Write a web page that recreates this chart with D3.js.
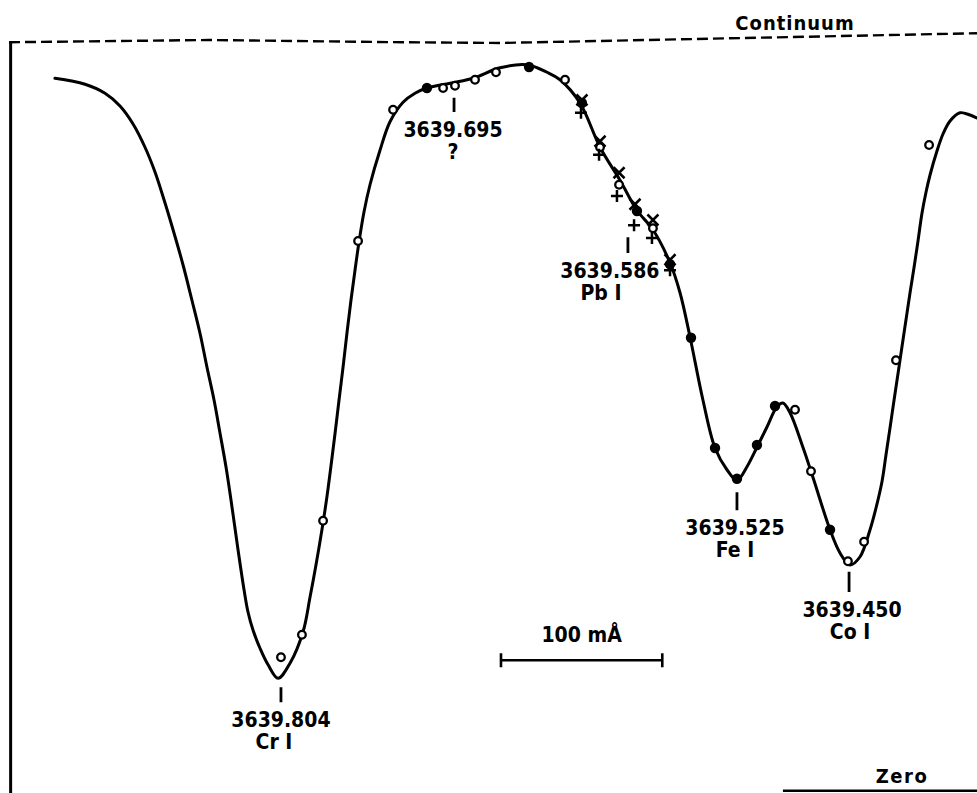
<!DOCTYPE html>
<html>
<head>
<meta charset="utf-8">
<script src="https://cdn.jsdelivr.net/npm/d3@7"></script>
<style>
  html, body { margin: 0; padding: 0; background: #fff; }
  svg { display: block; }
  text { font-family: "DejaVu Sans Condensed", "DejaVu Sans", sans-serif; font-weight: bold; fill: #000; }
</style>
</head>
<body>
<div id="chart"></div>
<script>
// ---- data (wavelength in Å, residual intensity relative to continuum) ----
const profileWavelength = [
  3639.9435, 3639.9249, 3639.9125, 3639.9032, 3639.8951, 3639.8877, 3639.8815, 3639.8759,
  3639.8703, 3639.8641, 3639.8586, 3639.8536, 3639.8493, 3639.8449, 3639.8412, 3639.8375,
  3639.8344, 3639.8300, 3639.8263, 3639.8238, 3639.8207, 3639.8164, 3639.8114, 3639.8052,
  3639.7978, 3639.7897, 3639.7854, 3639.7817, 3639.7780, 3639.7749, 3639.7724, 3639.7699,
  3639.7674, 3639.7649, 3639.7625, 3639.7600, 3639.7575, 3639.7550, 3639.7519, 3639.7482,
  3639.7420, 3639.7358, 3639.7277, 3639.7203, 3639.7129, 3639.6967, 3639.6843, 3639.6676,
  3639.6509, 3639.6385, 3639.6304, 3639.6180, 3639.6056, 3639.5932, 3639.5827, 3639.5728,
  3639.5622, 3639.5560, 3639.5498, 3639.5418, 3639.5343, 3639.5269, 3639.5207, 3639.5145,
  3639.5083, 3639.5021, 3639.4959, 3639.4922, 3639.4878, 3639.4798, 3639.4736, 3639.4630,
  3639.4568, 3639.4506, 3639.4444, 3639.4382, 3639.4345, 3639.4308, 3639.4283, 3639.4258,
  3639.4233, 3639.4208, 3639.4184, 3639.4159, 3639.4134, 3639.4109, 3639.4084, 3639.4060,
  3639.4035, 3639.4010, 3639.3967, 3639.3929, 3639.3886, 3639.3824, 3639.3762, 3639.3719
];
const profileIntensity = [
  0.949, 0.941, 0.929, 0.912, 0.888, 0.857, 0.824, 0.787,
  0.747, 0.700, 0.653, 0.609, 0.564, 0.520, 0.476, 0.431,
  0.387, 0.320, 0.267, 0.237, 0.213, 0.189, 0.167, 0.149,
  0.169, 0.211, 0.257, 0.300, 0.347, 0.391, 0.432, 0.475,
  0.520, 0.564, 0.609, 0.653, 0.693, 0.731, 0.771, 0.807,
  0.853, 0.891, 0.917, 0.929, 0.936, 0.943, 0.949, 0.963,
  0.967, 0.957, 0.947, 0.916, 0.857, 0.813, 0.773, 0.747,
  0.703, 0.663, 0.604, 0.520, 0.456, 0.427, 0.413, 0.431,
  0.457, 0.484, 0.511, 0.516, 0.503, 0.457, 0.417, 0.347,
  0.316, 0.300, 0.311, 0.347, 0.376, 0.411, 0.447, 0.483,
  0.520, 0.556, 0.591, 0.627, 0.663, 0.697, 0.733, 0.769,
  0.797, 0.820, 0.852, 0.875, 0.892, 0.903, 0.900, 0.896
];

const openWavelength = [3639.8034, 3639.7904, 3639.7773, 3639.7556, 3639.7339, 3639.7029, 3639.6955,
  3639.6831, 3639.6701, 3639.6273, 3639.6056, 3639.5938, 3639.5728, 3639.4847, 3639.4748,
  3639.4519, 3639.4419, 3639.4221, 3639.4016];
const openIntensity = [0.177, 0.207, 0.359, 0.732, 0.907, 0.936, 0.939,
  0.947, 0.957, 0.947, 0.857, 0.807, 0.749, 0.507, 0.425,
  0.305, 0.331, 0.573, 0.860];

const filledWavelength = [3639.7129, 3639.6496, 3639.6168, 3639.5827, 3639.5622, 3639.5492,
  3639.5343, 3639.5207, 3639.5083, 3639.4971, 3639.4630];
const filledIntensity = [0.936, 0.964, 0.916, 0.772, 0.701, 0.603,
  0.456, 0.415, 0.460, 0.512, 0.347];

const crossWavelength = [3639.6168, 3639.6056, 3639.5938, 3639.5839, 3639.5728, 3639.5622];
const crossIntensity = [0.920, 0.865, 0.823, 0.781, 0.760, 0.707];

const plusWavelength = [3639.6174, 3639.6062, 3639.5951, 3639.5845, 3639.5734, 3639.5622];
const plusIntensity = [0.903, 0.847, 0.792, 0.753, 0.736, 0.693];

// line identifications: label, element, marked position, tick top / bottom intensity
const lineLabels = ["3639.804", "3639.695", "3639.586", "3639.525", "3639.450"];
const lineElements = ["Cr I", "?", "Pb I", "Fe I", "Co I"];
const linePosition = [3639.8034, 3639.6961, 3639.5883, 3639.5207, 3639.4512];
const lineTickTop = [0.137, 0.923, 0.737, 0.397, 0.291];
const lineTickBottom = [0.117, 0.904, 0.716, 0.373, 0.264];

const continuumWavelength = [3639.972, 3639.8486, 3639.7277, 3639.6676, 3639.3719];
const continuumIntensity = [0.997, 1.000, 0.997, 0.996, 1.009];
const zeroWavelength = [3639.4922, 3639.3719];
const zeroIntensity = [-0.001, -0.001];
const frameWavelength = 3639.971;
const frameIntensity = [0.997, -0.004];

const scaleBarStart = 3639.667;
const scaleBarLength = 0.100;   // 100 mÅ
const scaleBarIntensity = 0.173;
const scaleBarLabel = "100 mÅ";

// ---- drawing ----
const W = 977, H = 793;
const svg = d3.select("#chart").append("svg").attr("width", W).attr("height", H);
svg.append("rect").attr("width", W).attr("height", H).attr("fill", "#fff");

const x = d3.scaleLinear().domain([3639.804, 3639.450]).range([280, 851]);
const y = d3.scaleLinear().domain([0, 1]).range([790, 40]);

// frame left edge
svg.append("line")
  .attr("x1", x(frameWavelength)).attr("x2", x(frameWavelength))
  .attr("y1", y(frameIntensity[0])).attr("y2", y(frameIntensity[1]))
  .attr("stroke", "#000").attr("stroke-width", 3);

// continuum (dashed)
const straight = d3.line().x(d => x(d[0])).y(d => y(d[1]));
svg.append("path")
  .attr("d", straight(continuumWavelength.map((w, i) => [w, continuumIntensity[i]])))
  .attr("fill", "none").attr("stroke", "#000").attr("stroke-width", 2.4)
  .attr("stroke-dasharray", "11,5");
svg.append("text").attr("x", 795).attr("y", 30).attr("text-anchor", "middle")
  .attr("font-size", 20).attr("letter-spacing", 1).text("Continuum");

// zero line
svg.append("path")
  .attr("d", straight(zeroWavelength.map((w, i) => [w, zeroIntensity[i]])))
  .attr("fill", "none").attr("stroke", "#000").attr("stroke-width", 2.6);
svg.append("text").attr("x", 902).attr("y", 783).attr("text-anchor", "middle")
  .attr("font-size", 20).attr("letter-spacing", 1.5).text("Zero");

// profile
const smooth = d3.line().x(d => x(d[0])).y(d => y(d[1])).curve(d3.curveCatmullRom.alpha(0.5));
svg.append("path")
  .attr("d", smooth(profileWavelength.map((w, i) => [w, profileIntensity[i]])))
  .attr("fill", "none").attr("stroke", "#000").attr("stroke-width", 3)
  .attr("stroke-linejoin", "round").attr("stroke-linecap", "round");

// open circles
svg.append("g").selectAll("circle")
  .data(openWavelength.map((w, i) => [w, openIntensity[i]]))
  .join("circle")
  .attr("cx", d => x(d[0])).attr("cy", d => y(d[1])).attr("r", 3.8)
  .attr("fill", "#fff").attr("stroke", "#000").attr("stroke-width", 2.3);

// filled circles
svg.append("g").selectAll("circle")
  .data(filledWavelength.map((w, i) => [w, filledIntensity[i]]))
  .join("circle")
  .attr("cx", d => x(d[0])).attr("cy", d => y(d[1])).attr("r", 5.2)
  .attr("fill", "#000");

// crosses (x)
const s = 5.5;
svg.append("g").selectAll("path")
  .data(crossWavelength.map((w, i) => [w, crossIntensity[i]]))
  .join("path")
  .attr("d", d => {
    const cx = x(d[0]), cy = y(d[1]);
    return `M${cx - s},${cy - s}L${cx + s},${cy + s}M${cx + s},${cy - s}L${cx - s},${cy + s}`;
  })
  .attr("stroke", "#000").attr("stroke-width", 2.5);

// plus (+)
const p = 6;
svg.append("g").selectAll("path")
  .data(plusWavelength.map((w, i) => [w, plusIntensity[i]]))
  .join("path")
  .attr("d", d => {
    const cx = x(d[0]), cy = y(d[1]);
    return `M${cx - p},${cy}L${cx + p},${cy}M${cx},${cy - p}L${cx},${cy + p}`;
  })
  .attr("stroke", "#000").attr("stroke-width", 2.5);

// line identifications
const labelDx = [0, -1, -18, -2, 3];
const elementDx = [-7, -1, -27, -2, 1];
lineLabels.forEach((lab, i) => {
  const cx = x(linePosition[i]);
  const yb = y(lineTickBottom[i]);
  svg.append("line").attr("x1", cx).attr("x2", cx)
    .attr("y1", y(lineTickTop[i])).attr("y2", yb)
    .attr("stroke", "#000").attr("stroke-width", 2.8);
  svg.append("text").attr("x", cx + labelDx[i]).attr("y", yb + 25)
    .attr("text-anchor", "middle").attr("font-size", 21).text(lab);
  svg.append("text").attr("x", cx + elementDx[i]).attr("y", yb + 47)
    .attr("text-anchor", "middle").attr("font-size", 21).text(lineElements[i]);
});

// scale bar
const sb0 = x(scaleBarStart), sb1 = x(scaleBarStart - scaleBarLength), sby = y(scaleBarIntensity);
svg.append("path")
  .attr("d", `M${sb0},${sby}L${sb1},${sby}M${sb0},${sby - 7}L${sb0},${sby + 7}M${sb1},${sby - 7}L${sb1},${sby + 7}`)
  .attr("stroke", "#000").attr("stroke-width", 2.6).attr("fill", "none");
svg.append("text").attr("x", (sb0 + sb1) / 2).attr("y", sby - 18)
  .attr("text-anchor", "middle").attr("font-size", 21).text(scaleBarLabel);
</script>
</body>
</html>
